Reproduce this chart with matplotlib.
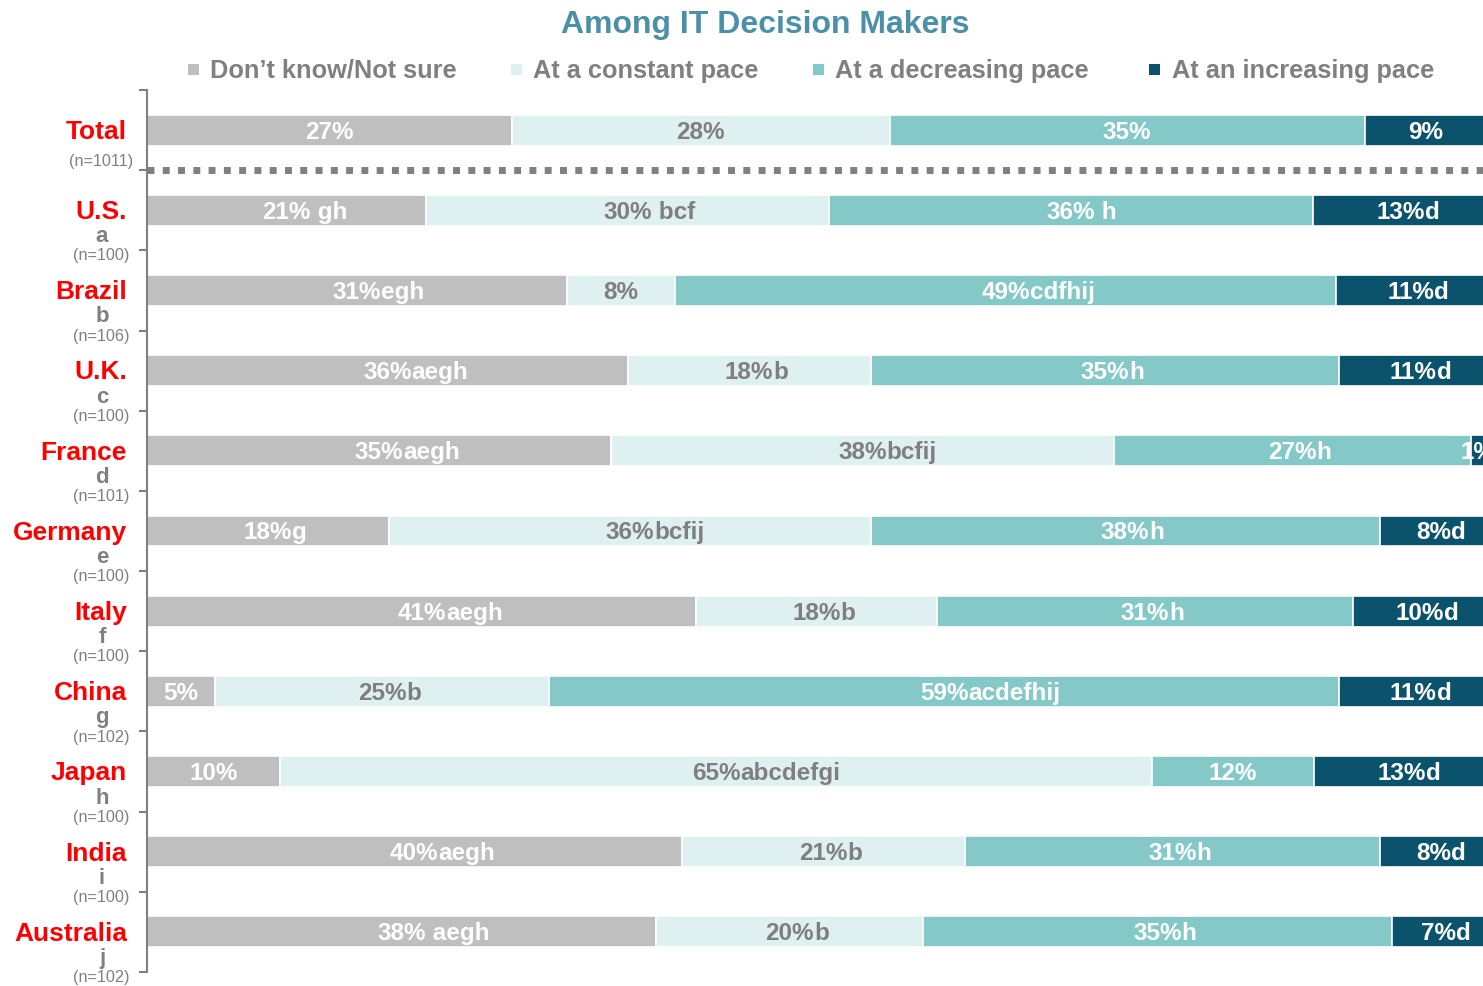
import matplotlib
matplotlib.use('Agg')
import matplotlib.pyplot as plt
from matplotlib.patches import Rectangle
import numpy as np

plt.rcParams['font.family'] = ['Liberation Sans', 'DejaVu Sans']

# ---------------- data ----------------
categories = ['Total', 'U.S.', 'Brazil', 'U.K.', 'France', 'Germany', 'Italy',
              'China', 'Japan', 'India', 'Australia']
letters = ['', 'a', 'b', 'c', 'd', 'e', 'f', 'g', 'h', 'i', 'j']
n_labels = ['(n=1011)', '(n=100)', '(n=106)', '(n=100)', '(n=101)', '(n=100)',
            '(n=100)', '(n=102)', '(n=100)', '(n=100)', '(n=102)']

series_names = ["Don\u2019t know/Not sure", 'At a constant pace',
                'At a decreasing pace', 'At an increasing pace']

dont_know = [27.0, 20.7, 31.1, 35.6, 34.4, 17.9, 40.7, 5.0, 9.85, 39.6, 37.7]
constant = [28.0, 29.8, 8.0, 18.0, 37.2, 35.7, 17.8, 24.8, 64.6, 21.0, 19.8]
decreasing = [35.2, 35.9, 49.0, 34.7, 26.5, 37.7, 30.8, 58.5, 12.0, 30.7, 34.7]
increasing = [9, 13, 11, 11, 1, 8, 10, 11, 13, 8, 7]

dk_pct = ['27%', '21%', '31%', '36%', '35%', '18%', '41%', '5%', '10%', '40%', '38%']
dk_sig = ['', ' gh', 'egh', 'aegh', 'aegh', 'g', 'aegh', '', '', 'aegh', ' aegh']
cp_pct = ['28%', '30%', '8%', '18%', '38%', '36%', '18%', '25%', '65%', '21%', '20%']
cp_sig = ['', ' bcf', '', 'b', 'bcfij', 'bcfij', 'b', 'b', 'abcdefgi', 'b', 'b']
dec_pct = ['35%', '36%', '49%', '35%', '27%', '38%', '31%', '59%', '12%', '31%', '35%']
dec_sig = ['', ' h', 'cdfhij', 'h', 'h', 'h', 'h', 'acdefhij', '', 'h', 'h']
inc_pct = ['9%', '13%', '11%', '11%', '1%', '8%', '10%', '11%', '13%', '8%', '7%']
inc_sig = ['', 'd', 'd', 'd', '', 'd', 'd', 'd', 'd', 'd', 'd']

colors = ['#BFBFBF', '#DFF0F0', '#85C8C8', '#0B526C']
text_colors = ['white', '#7F7F7F', 'white', 'white']

# ---------------- figure ----------------
W, H = 1483, 986
fig = plt.figure(figsize=(W / 100, H / 100), dpi=100)
ax = fig.add_axes([147 / W, (H - 972) / H, 1350 / W, 882 / H])

n = len(categories)
y = np.arange(n)
left = np.zeros(n)
series = [(dont_know, dk_pct, dk_sig), (constant, cp_pct, cp_sig),
          (decreasing, dec_pct, dec_sig), (increasing, inc_pct, inc_sig)]

FS = 17.5
for k, (vals, pcts, sigs) in enumerate(series):
    vals = np.array(vals, dtype=float)
    ax.barh(y, vals, left=left, height=0.385, color=colors[k],
            edgecolor='white', linewidth=1.2, zorder=2)
    for i in range(n):
        cx = left[i] + vals[i] / 2
        t = ax.text(cx, y[i] + 0.105, pcts[i], ha='center', va='baseline', fontsize=FS,
                    fontweight='bold', color=text_colors[k], zorder=4, clip_on=False)
        if sigs[i]:
            ax.annotate(sigs[i], xy=(1, 0), xycoords=t, ha='left', va='bottom',
                        fontsize=FS, fontweight='bold', color=text_colors[k],
                        zorder=4, annotation_clip=False)
    left += vals

# dotted separator below Total
ax.axhline(0.5, color='#808080', lw=5, linestyle=(0, (1.0, 1.2)), zorder=1)

ax.set_xlim(0, 100)
ax.set_ylim(n - 0.5, -0.5)
for s in ['top', 'right', 'bottom']:
    ax.spines[s].set_visible(False)
ax.spines['left'].set_color('#808080')
ax.spines['left'].set_linewidth(1.5)
ax.spines['left'].set_zorder(3)
ax.set_xticks([])
ax.set_yticks(np.arange(-0.5, n, 1.0))
ax.set_yticklabels([])
ax.tick_params(axis='y', direction='out', length=6, width=1.5, color='#808080')

# category labels
ytr = ax.get_yaxis_transform()
for i in range(n):
    ax.text(-0.0148, y[i] + 0.11, categories[i], transform=ytr, ha='right', va='baseline',
            fontsize=19, fontweight='bold', color='#FF0000', clip_on=False)
    if letters[i]:
        ax.text(-0.0333, y[i] + 0.33, letters[i], transform=ytr, ha='center', va='center',
                fontsize=16, fontweight='bold', color='#808080', clip_on=False)
        ny = y[i] + 0.57
    else:
        ny = y[i] + 0.39
    ax.text(-0.0340, ny, n_labels[i], transform=ytr, ha='center', va='center',
            fontsize=11.7, color='#808080', clip_on=False)

# title
fig.text(765 / W, 1 - 33 / H, 'Among IT Decision Makers', ha='center', va='baseline',
         fontsize=23, fontweight='bold', color='#4A90A8')

# legend
sq_x = [188, 511, 813, 1149]
tx_x = [210, 533, 835, 1172]
for k in range(4):
    fig.add_artist(Rectangle((sq_x[k] / W, 1 - 75 / H), 11 / W, 11 / H,
                             transform=fig.transFigure, facecolor=colors[k],
                             edgecolor='none'))
    fig.text(tx_x[k] / W, 1 - 78 / H, series_names[k], ha='left', va='baseline',
             fontsize=18.3, fontweight='bold', color='#808080')

fig.savefig('out.png', dpi=100)
